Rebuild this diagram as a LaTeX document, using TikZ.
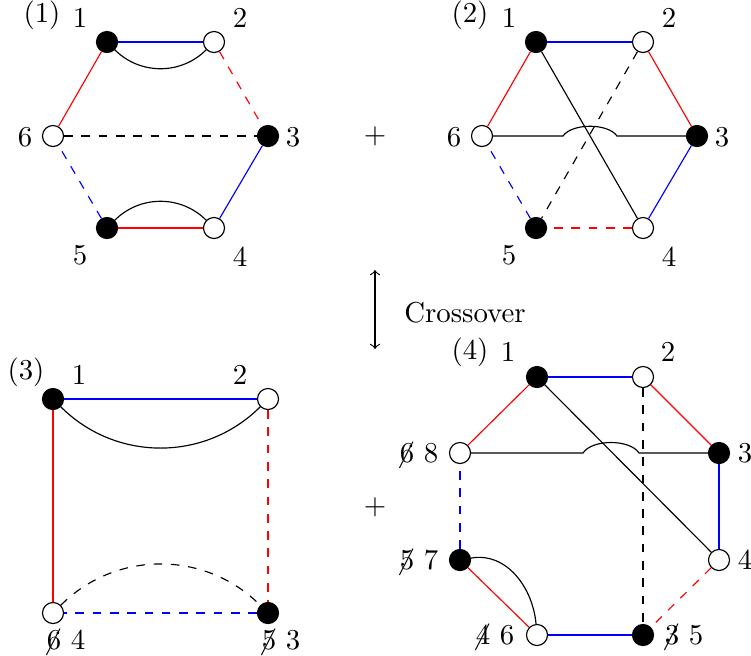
\documentclass[tikz,border=0pt]{standalone}
\usepackage{amsmath,amssymb}
\usepackage{tikz}
\usetikzlibrary{arrows}
\newcommand{\strk}[1]{\rlap{\kern-1.5pt$\not$}#1}

\begin{document}
\begin{tikzpicture}[x=0.347pt, y=0.347pt,
  bvert/.style={circle, draw, fill=black, minimum size=7.3pt, inner sep=0pt},
  wvert/.style={circle, draw, fill=white, minimum size=7.3pt, inner sep=0pt},
  lab/.style={inner sep=0pt}]
\useasboundingbox (0,0) rectangle (751,655);

% (1)
\node[lab] (t1) at (42,640) {(1)};
\node[bvert] (a1) at (107,613) {};
\node[wvert] (a2) at (214,613) {};
\node[bvert] (a3) at (268,519) {};
\node[wvert] (a4) at (214,427) {};
\node[bvert] (a5) at (107,427) {};
\node[wvert] (a6) at (53,519) {};
\node[lab] (la1) at (80,637) {1};
\node[lab] (la2) at (240,637) {2};
\node[lab] (la3) at (293,518) {3};
\node[lab] (la4) at (240,398) {4};
\node[lab] (la5) at (80,400) {5};
\node[lab] (la6) at (25,518) {6};
\draw [blue] (a1) -- (a2);
\draw [red, dashed] (a2) -- (a3);
\draw [blue] (a3) -- (a4);
\draw [red] (a4) -- (a5);
\draw [blue, dashed] (a5) -- (a6);
\draw [red] (a6) -- (a1);
\draw [dashed] (a6) -- (a3);
\draw (a1) to [bend right=45] (a2);
\draw (a5) to [bend left=45] (a4);

\node (plus1) at (375,519) {$+$};

% (2)
\node[lab] (t2) at (470,640) {(2)};
\node[bvert] (b1) at (536,613) {};
\node[wvert] (b2) at (643,613) {};
\node[bvert] (b3) at (697,519) {};
\node[wvert] (b4) at (643,427) {};
\node[bvert] (b5) at (536,427) {};
\node[wvert] (b6) at (482,519) {};
\node[lab] (lb1) at (509,637) {1};
\node[lab] (lb2) at (669,637) {2};
\node[lab] (lb3) at (722,518) {3};
\node[lab] (lb4) at (669,398) {4};
\node[lab] (lb5) at (509,400) {5};
\node[lab] (lb6) at (454,518) {6};
\coordinate (hopb1) at (563,519);
\coordinate (hopb2) at (617,519);
\draw [blue] (b1) -- (b2);
\draw [red] (b2) -- (b3);
\draw [blue] (b3) -- (b4);
\draw [red, dashed] (b4) -- (b5);
\draw [blue, dashed] (b5) -- (b6);
\draw [red] (b6) -- (b1);
\draw (b1) -- (b4);
\draw [dashed] (b2) -- (b5);
\draw (b6) -- (hopb1) .. controls (572,532) and (608,532) .. (hopb2) -- (b3);

% crossover arrow
\coordinate (xtop) at (375,385);
\coordinate (xbot) at (375,306);
\draw [<->] (xtop) -- (xbot);
\node (xlab) at (465,342) {Crossover};

% (3)
\node[lab] (t3) at (26,283) {(3)};
\node[bvert] (c1) at (53,256) {};
\node[wvert] (c2) at (268,256) {};
\node[bvert] (c3) at (268,42) {};
\node[wvert] (c4) at (53,42) {};
\node[lab] (lc1) at (79,280) {1};
\node[lab] (lc2) at (240,280) {2};
\node[lab] (lc3) at (281,13) {\strk{5} 3};
\node[lab] (lc4) at (66,13) {\strk{6} 4};
\draw [blue] (c1) -- (c2);
\draw [red, dashed] (c2) -- (c3);
\draw [blue, dashed] (c3) -- (c4);
\draw [red] (c4) -- (c1);
\draw (c1) to [bend right=45] (c2);
\draw [dashed] (c4) to [bend left=45] (c3);

\node (plus2) at (375,148) {$+$};

% (4)
\node[lab] (t4) at (470,303) {(4)};
\node[bvert] (d1) at (537,278) {};
\node[wvert] (d2) at (643,278) {};
\node[bvert] (d3) at (719,202) {};
\node[wvert] (d4) at (719,95) {};
\node[bvert] (d5) at (643,20) {};
\node[wvert] (d6) at (537,20) {};
\node[bvert] (d7) at (460,95) {};
\node[wvert] (d8) at (460,202) {};
\node[lab] (ld1) at (508,303) {1};
\node[lab] (ld2) at (668,303) {2};
\node[lab] (ld3) at (745,202) {3};
\node[lab] (ld4) at (745,95) {4};
\node[lab] (ld5) at (684,18) {\strk{3} 5};
\node[lab] (ld6) at (495,18) {\strk{4} 6};
\node[lab] (ld7) at (419,93) {\strk{5} 7};
\node[lab] (ld8) at (419,200) {\strk{6} 8};
\coordinate (hopd1) at (583,202);
\coordinate (hopd2) at (639,202);
\draw [blue] (d1) -- (d2);
\draw [red] (d2) -- (d3);
\draw [blue] (d3) -- (d4);
\draw [red, dashed] (d4) -- (d5);
\draw [blue] (d5) -- (d6);
\draw [red] (d6) -- (d7);
\draw [blue, dashed] (d7) -- (d8);
\draw [red] (d8) -- (d1);
\draw (d1) -- (d4);
\draw [dashed] (d2) -- (d5);
\draw (d7) to [out=10, in=95] (d6);
\draw (d8) -- (hopd1) .. controls (592,216) and (630,216) .. (hopd2) -- (d3);
\end{tikzpicture}
\end{document}
